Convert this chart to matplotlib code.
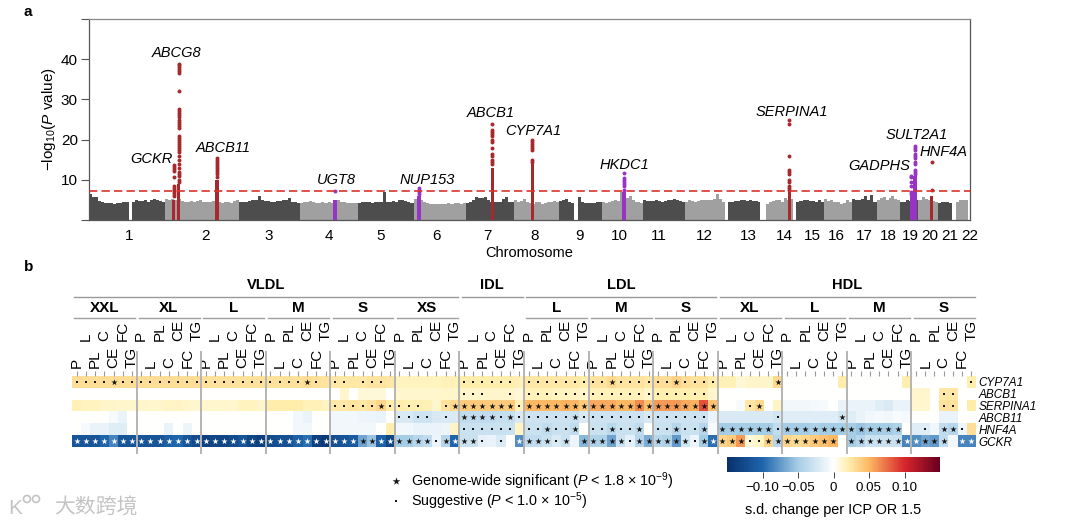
import numpy as np
import matplotlib
matplotlib.use("agg")
import matplotlib.pyplot as plt
from matplotlib.colors import LinearSegmentedColormap, Normalize
from matplotlib.cm import ScalarMappable
from matplotlib.patches import Circle

plt.rcParams["font.family"] = ["Liberation Sans", "DejaVu Sans"]
plt.rcParams["mathtext.fontset"] = "custom"
plt.rcParams["mathtext.rm"] = "Liberation Sans"
plt.rcParams["mathtext.it"] = "Liberation Sans:italic"
plt.rcParams["mathtext.bf"] = "Liberation Sans:bold"

W, H = 1069, 527

# ---- panel a data (Mb, -log10 P)
chrom_len = [249, 243, 198, 191, 181, 171, 159, 146, 141, 135, 135, 133,
             115, 107, 102, 90, 81, 78, 59, 63, 48, 51]
chrom_ticks = [131, 380, 589, 786, 953, 1136, 1303, 1457, 1604, 1735, 1866,
               2013, 2157, 2275, 2367, 2445, 2537, 2615, 2687, 2750, 2815, 2881]
skyline = [
    [6.4, 5.8, 5.6, 4.8, 4.5, 4.3, 4.2, 4.2, 4.1, 4.2, 4.3, 4.4, 4.6, 0, 4.4, 5.0, 4.7, 4.8, 5.0, 4.6, 4.9, 5.2, 5.0, 4.8, 4.6],
    [5.2, 5.0, 5.1, 5.0, 5.2, 4.8, 4.6, 4.6, 4.7, 4.5, 4.7, 4.9, 4.6, 4.4, 4.5, 4.7, 4.6, 4.4, 4.3, 4.5, 4.4, 4.3, 4.7, 5.0],
    [4.5, 4.6, 4.5, 4.8, 4.9, 5.0, 6.0, 5.0, 4.8, 4.7, 4.6, 4.5, 4.8, 4.7, 4.9, 5.0, 5.4, 4.6, 4.5, 4.3],
    [4.2, 4.4, 4.6, 4.8, 4.5, 4.3, 4.2, 4.4, 4.3, 4.5, 4.2, 4.4, 5.0, 4.6, 4.5, 4.3, 4.2, 4.3, 4.2],
    [4.3, 4.4, 4.6, 4.4, 4.3, 4.5, 4.4, 4.5, 7.0, 4.6, 4.5, 4.7, 4.5, 5.0, 5.0, 4.7, 4.5, 4.3],
    [5.2, 4.8, 5.0, 4.6, 4.2, 4.0, 3.9, 4.0, 4.1, 4.0, 4.0, 4.2, 4.1, 4.3, 4.2, 4.0, 4.3],
    [4.3, 4.5, 5.0, 5.6, 5.5, 5.5, 5.6, 5.0, 4.6, 4.4, 4.6, 4.4, 5.2, 5.8, 4.6, 4.4],
    [5.0, 4.6, 4.8, 5.2, 4.6, 4.2, 4.0, 4.5, 4.6, 4.0, 4.2, 4.4, 4.6, 4.8, 4.5],
    [4.8, 5.0, 5.2, 4.6, 4.2, 0, 5.8, 4.4, 4.2, 4.3, 4.3, 4.2, 4.4, 4.6],
    [4.6, 4.2, 4.4, 4.8, 5.0, 4.8, 7.0, 6.6, 5.4, 6.0, 5.0, 4.6, 4.5, 4.3],
    [5.0, 4.8, 4.7, 4.8, 4.9, 4.8, 4.6, 4.8, 5.0, 4.9, 5.2, 5.0, 4.8, 4.6],
    [4.5, 5.0, 4.8, 4.6, 4.8, 5.0, 5.0, 4.9, 5.0, 5.2, 6.4, 5.2, 4.6],
    [0, 4.4, 4.6, 4.8, 4.7, 4.9, 5.0, 4.8, 4.9, 4.7, 4.8, 4.5],
    [0, 0, 4.0, 4.6, 4.8, 5.0, 4.9, 4.5, 5.4, 5.0, 5.2],
    [0, 4.6, 4.8, 5.0, 4.9, 4.8, 4.7, 4.5, 5.0, 4.6],
    [5.2, 4.8, 5.0, 4.6, 4.4, 4.0, 4.2, 4.9, 4.4],
    [5.2, 4.9, 5.0, 5.3, 6.0, 5.0, 6.2, 4.6],
    [5.0, 5.4, 5.8, 5.0, 5.4, 6.0, 5.2, 5.0],
    [4.6, 4.4, 5.0, 4.8, 5.6, 5.0],
    [5.0, 5.6, 5.2, 5.0, 4.8, 4.4],
    [4.2, 4.5, 4.6, 4.5, 4.3],
    [0, 4.6, 5.0, 5.0, 5.0],
]
threshold = 7.3

gene_names = ["GCKR", "ABCG8", "ABCB11", "UGT8", "NUP153", "ABCB1", "CYP7A1",
              "HKDC1", "SERPINA1", "GADPHS", "SULT2A1", "HNF4A"]
gene_chrom = [2, 2, 2, 4, 6, 7, 8, 10, 14, 19, 19, 20]
gene_pos = [27.7, 44, 169, 115, 17.6, 87, 59, 71, 94.8, 36, 48, 43]
gene_kind = ["r", "r", "r", "p", "p", "r", "r", "p", "r", "p", "p", "r"]
gene_solid = [5, 9, 10, 5, 6, 13, 14, 7, 7, 6, 11, 6]
gene_dots = [
    [13.8, 13.3, 12.8, 12.3, 10.7, 8.5, 8, 7.5, 7, 6.5, 6],
    [38.9, 38.5, 38, 37.5, 37, 36.5, 32, 27.5, 27, 26.5, 26, 25.5, 25, 24.5, 24, 23.5, 23,
     21, 20.5, 20, 19.5, 19, 18.5, 18, 17.5, 17, 16, 15, 14, 13, 12, 11.5, 11, 10, 9.5],
    [15.5, 15, 14.5, 14, 13.5, 13, 12.5, 12, 11.5, 10.8],
    [7.3],
    [8, 7.5, 7, 6.5],
    [24, 22.5, 22, 21.5, 21, 20, 19.5, 18, 16.5, 16, 15, 14.5, 14],
    [20, 19.5, 19, 18.5, 18, 17.5, 15, 14.5],
    [11.7, 10.5, 10, 9.5, 9, 8.5, 7.5],
    [25, 24, 16, 12.5, 12, 11.5, 10, 9.5, 8.5, 8, 7.5],
    [11, 10.8, 9.5, 8.5, 7, 6.5],
    [18.5, 18, 17.5, 16.5, 16, 15.5, 14.5, 14, 12.5, 12, 11.5],
    [14.5, 7.5],
]
label_x = [206, 288, 439, 808, 1106, 1316, 1453, 1751, 2301, 2586, 2707, 2795]
label_y = [15.2, 41.5, 17.8, 9.9, 9.9, 26.5, 22.2, 13.7, 26.8, 13.5, 21.2, 16.9]

# ---- panel b data (s.d. change per ICP OR 1.5)
measures = ["P", "L", "PL", "C", "CE", "FC", "TG"]
lipo_groups = ["XXL", "XL", "L", "M", "S", "XS", "", "L", "M", "S", "XL", "L", "M", "S"]
lipo_classes = ["VLDL", "IDL", "LDL", "HDL"]
class_sizes = [6, 1, 3, 4]
row_genes = ["CYP7A1", "ABCB1", "SERPINA1", "ABCB11", "HNF4A", "GCKR"]

cyp7a1 = [.030, .030, .030, .030, .030, .030, .030,
          .030, .030, .030, .030, .030, .030, .030,
          .028, .028, .028, .028, .028, .028, .028,
          .028, .028, .028, .028, .030, .028, .026,
          .024, .024, .024, .024, .026, .026, .024,
          .016, .016, .016, .016, .016, .018, .018,
          .022, .022, .022, .022, .022, .022, .018,
          .024, .024, .024, .024, .024, .024, .022,
          .026, .026, .032, .026, .026, .026, .024,
          .030, .030, .036, .030, .028, .028, .022,
          .018, .018, .010, .014, .014, .014, .032,
          0, 0, 0, 0, 0, 0, .022,
          0, 0, 0, 0, 0, 0, .020,
          0, 0, 0, 0, 0, 0, .020]
abcb1 = [0, 0, 0, 0, 0, 0, 0,
         0, 0, 0, 0, 0, 0, 0,
         0, 0, 0, 0, 0, 0, 0,
         0, 0, 0, 0, 0, 0, 0,
         0, .012, 0, .010, .010, .010, 0,
         .012, .012, .012, .012, .012, .014, .014,
         .014, .014, .014, .014, .014, .014, .010,
         .018, .018, .018, .016, .016, .016, .014,
         .018, .018, .018, .018, .018, .018, .014,
         .020, .020, .020, .020, .020, .020, .012,
         0, 0, 0, 0, 0, 0, 0,
         0, 0, 0, 0, 0, 0, 0,
         0, 0, 0, 0, 0, 0, 0,
         .012, .012, 0, .024, .024, 0, 0]
serpina1 = [.018, .016, .016, .014, .014, .012, .012,
            .014, .012, .012, .015, .015, .012, .012,
            .012, .012, .012, .012, .016, .016, .013,
            .022, .022, .022, .022, .018, .018, .016,
            .024, .024, .026, .024, .028, .033, .022,
            .022, .020, .020, .018, .012, .028, .032,
            .040, .040, .040, .040, .040, .040, .018,
            .050, .050, .050, .050, .052, .050, .040,
            .055, .055, .055, .050, .050, .065, .045,
            .060, .060, .060, .055, .052, .085, .045,
            0, 0, -.004, .025, .032, 0, .015,
            -.008, -.008, -.008, -.007, -.005, 0, -.012,
            -.012, -.012, -.012, -.018, -.020, -.012, -.012,
            .012, .012, 0, .028, .028, 0, .022]
abcb11 = [0, 0, 0, 0, -.005, -.012, 0,
          0, 0, 0, 0, 0, 0, 0,
          0, 0, 0, 0, 0, 0, 0,
          0, 0, 0, -.008, -.012, 0, 0,
          -.008, -.008, -.008, -.010, -.010, -.012, 0,
          -.022, -.022, -.028, -.028, -.022, -.020, -.020,
          -.035, -.035, -.035, -.035, -.032, -.032, -.022,
          -.028, -.028, -.028, -.028, -.028, -.030, -.022,
          -.028, -.028, -.028, -.028, -.028, -.028, -.022,
          -.028, -.028, -.028, -.028, -.028, -.028, -.012,
          -.020, -.020, -.020, -.020, -.020, -.020, -.025,
          -.018, -.018, -.018, -.018, -.018, -.018, -.025,
          -.018, -.012, -.008, -.006, -.008, -.004, -.006,
          0, 0, 0, -.012, -.012, 0, 0]
hnf4a = [0, -.005, -.012, -.012, -.018, -.018, 0,
         0, 0, 0, -.012, 0, -.010, 0,
         0, 0, 0, 0, 0, 0, 0,
         0, 0, 0, -.008, -.008, 0, 0,
         -.008, -.008, -.008, -.008, -.008, 0, .020,
         -.008, -.008, -.012, -.012, -.012, -.010, .015,
         -.030, -.030, -.030, -.030, -.030, -.030, .015,
         -.030, -.030, -.035, -.030, -.030, -.035, 0,
         -.030, -.030, -.038, -.030, -.030, -.036, 0,
         -.030, -.030, -.040, -.030, -.030, -.040, -.005,
         -.050, -.050, -.050, -.050, -.050, -.050, -.035,
         -.050, -.050, -.050, -.045, -.050, -.050, -.050,
         -.050, -.055, -.050, -.050, -.050, -.045, 0,
         -.018, -.018, -.008, -.035, -.040, -.010, .030]
gckr = [-.115, -.115, -.115, -.100, -.085, -.115, -.115,
        -.115, -.115, -.115, -.105, -.100, -.115, -.125,
        -.135, -.130, -.130, -.125, -.115, -.130, -.135,
        -.125, -.120, -.120, -.105, -.095, -.135, -.140,
        -.120, -.115, -.110, -.070, -.055, -.105, -.130,
        -.050, -.050, -.040, -.035, -.010, -.040, -.100,
        -.030, -.030, -.015, -.012, -.020, 0, -.080,
        -.035, -.035, -.030, -.020, -.030, -.010, -.060,
        -.045, -.045, -.070, -.030, -.015, -.040, -.065,
        -.040, -.045, -.075, -.025, -.010, -.050, -.095,
        .035, .040, .060, .010, .015, .035, -.040,
        .035, .030, .035, .040, .045, .050, 0,
        -.050, -.040, -.030, -.030, -.030, -.030, -.085,
        -.080, -.070, -.075, -.035, -.008, -.085, -.085]

# * = genome-wide significant, . = suggestive, one string per lipoprotein group
marks_cyp7a1 = ["....*..", ".......", ".......", "....*. ", ".. ... ", "       ", "...... ",
                ".......", "..*....", "..*....", "      *", "       ", "       ", "      ."]
marks_abcb1 = ["       ", "       ", "       ", "       ", "       ", "       ", "...  . ",
               ".......", ".......", "...... ", "       ", "       ", "       ", "   ..  "]
marks_serpina1 = ["       ", "       ", "       ", "       ", ".....*.", "...  .*", "******.",
                  "*******", "*******", "*******", "   .*  ", "       ", "       ", "   ..  "]
marks_abcb11 = ["       ", "       ", "       ", "       ", "       ", ".... . ", "****.*.",
                ".....*.", ".......", "...... ", "      .", "      *", "       ", "       "]
marks_hnf4a = ["       ", "       ", "       ", "       ", "       ", "       ", "...... ",
               "..*..* ", "..*..* ", "..*..* ", "******.", "*******", "****** ", " . **. "]
marks_gckr = ["*******", "*******", "*******", "*******", "*******", "****.**", "**. . *",
              "***.* *", "****.**", "****.**", "***..**", "****** ", "*******", "**** **"]

cbar_ticks = [-0.10, -0.05, 0, 0.05, 0.10]
cbar_labels = ["\u22120.10", "\u22120.05", "0", "0.05", "0.10"]
vlim = 0.15


def px_axes(fig, left, top, right, bottom):
    return fig.add_axes([left / W, 1 - bottom / H, (right - left) / W, (bottom - top) / H])


if __name__ == "__main__":
    fig = plt.figure(figsize=(W / 100, H / 100), dpi=100)

    # ---- Manhattan plot
    ax0 = px_axes(fig, 89, 19, 969.5, 220)
    offsets = np.concatenate([[0], np.cumsum(chrom_len)])
    for i, heights in enumerate(skyline):
        edges = np.linspace(offsets[i], offsets[i + 1], len(heights) + 1)
        ax0.stairs(heights, edges, fill=True, lw=0,
                   color="#4d4d4d" if i % 2 == 0 else "#a0a0a0")

    hit_colors = {"r": "#a8292d", "p": "#9933c4"}
    for name, ch, pos, kind, solid, dots, lx, ly in zip(gene_names, gene_chrom, gene_pos,
                                                        gene_kind, gene_solid, gene_dots,
                                                        label_x, label_y):
        x = offsets[ch - 1] + pos
        c = hit_colors[kind]
        ax0.bar(x, solid, width=12, color=c, lw=0, zorder=3)
        ax0.scatter([x] * len(dots), dots, s=8, color=c, lw=0, zorder=3)
        ax0.text(lx, ly, name, style="italic", fontsize=10.5, ha="center", va="center")

    ax0.axhline(threshold, color="#d9332b", lw=1.2, dashes=(5, 2.5), zorder=4)
    ax0.set_xlim(0, offsets[-1])
    ax0.set_ylim(0, 50)
    ax0.set_yticks([0, 10, 20, 30, 40, 50])
    ax0.set_yticklabels(["", "10", "20", "30", "40", ""], fontsize=11)
    ax0.set_xticks(chrom_ticks)
    ax0.set_xticklabels([str(i + 1) for i in range(22)], fontsize=11)
    ax0.tick_params(axis="x", length=0, pad=6.5)
    ax0.tick_params(axis="y", length=6, width=0.8, color="#555555", pad=2)
    ax0.set_xlabel("Chromosome", fontsize=10.5, labelpad=2)
    ax0.set_ylabel(r"$-$log$_{10}$($\mathit{P}$ value)", fontsize=11, labelpad=2)
    for side in ax0.spines:
        ax0.spines[side].set_color("#555555")
        ax0.spines[side].set_linewidth(0.9)
    ax0.spines["top"].set_color("#888888")

    # ---- heat map
    cmap = LinearSegmentedColormap.from_list("icp", [
        (0.0, "#08306b"), (1 / 6, "#1f66ad"), (1 / 3, "#a6cde6"), (0.5, "#ffffff"),
        (0.5 + 0.02 / 0.3, "#fff0b0"), (2 / 3, "#fdb863"), (5 / 6, "#d7262b"), (1.0, "#67001f")])
    norm = Normalize(-vlim, vlim)

    ax1 = px_axes(fig, 72, 376, 976, 447)
    values = np.array([cyp7a1, abcb1, serpina1, abcb11, hnf4a, gckr])
    ax1.pcolormesh(np.arange(99), np.arange(7), values, cmap=cmap, norm=norm,
                   linewidth=0, rasterized=True)
    ax1.set_xlim(0, 98)
    ax1.set_ylim(6, 0)

    all_marks = [marks_cyp7a1, marks_abcb1, marks_serpina1, marks_abcb11, marks_hnf4a, marks_gckr]
    for r, row in enumerate(all_marks):
        flat = "".join(row)
        for c, m in enumerate(flat):
            if m == " ":
                continue
            col = "white" if values[r, c] < -0.078 else "#151515"
            if m == "*":
                ax1.scatter(c + 0.5, r + 0.5, marker="*", s=22, color=col, lw=0)
            else:
                ax1.scatter(c + 0.5, r + 0.5, marker="s", s=3, color=col, lw=0)

    ax1.set_yticks(np.arange(6) + 0.5)
    ax1.set_yticklabels(row_genes, style="italic", fontsize=8.5)
    ax1.yaxis.tick_right()
    ax1.tick_params(axis="y", length=0, pad=2)

    ax1.xaxis.tick_top()
    ax1.set_xticks(np.arange(98) + 0.5)
    ax1.set_xticklabels(measures * 14, rotation=90, fontsize=11, ha="center", va="bottom")
    for i, tick in enumerate(ax1.xaxis.get_major_ticks()):
        upper = i % 2 == 1
        tick.tick2line.set_markersize(22.5 if upper else 4.5)
        tick.tick2line.set_markeredgewidth(0.6)
        tick.tick2line.set_markeredgecolor("#999999")
        tick.set_pad(21.7 if upper else 2.5)
    for side in ax1.spines:
        ax1.spines[side].set_visible(False)

    # group lines above the heat map, y given as axes fraction from pixels
    def yf(py):
        return (447 - py) / 71.0

    trans = ax1.get_xaxis_transform()
    for g in range(1, 14):
        ax1.plot([g * 7, g * 7], [yf(352), yf(453)], transform=trans, clip_on=False,
                 color="#b4b4b4", lw=1.4, zorder=5)
    for g, name in enumerate(lipo_groups):
        if name:
            ax1.plot([g * 7 + 0.25, g * 7 + 6.85], [yf(318.3)] * 2, transform=trans,
                     clip_on=False, color="#a0a0a0", lw=1)
            ax1.text(g * 7 + 3.5, yf(308), name, transform=trans, fontsize=11, weight="bold",
                     ha="center", va="center")
    start = 0
    for name, n in zip(lipo_classes, class_sizes):
        a, b = start * 7, (start + n) * 7
        ax1.plot([a + 0.25, b - 0.15], [yf(296.7)] * 2, transform=trans, clip_on=False,
                 color="#999999", lw=1)
        ax1.text((a + b) / 2, yf(285), name, transform=trans, fontsize=10.5, weight="bold",
                 ha="center", va="center")
        start += n

    # ---- colour bar
    cax = px_axes(fig, 727, 457, 940, 472)
    cb = fig.colorbar(ScalarMappable(norm=norm, cmap=cmap), cax=cax, orientation="horizontal")
    cb.set_ticks(cbar_ticks)
    cb.set_ticklabels(cbar_labels)
    cb.ax.tick_params(length=4, width=0.7, labelsize=9.6, pad=3, color="#444444")
    cb.outline.set_visible(False)
    cb.set_label("s.d. change per ICP OR 1.5", fontsize=10.4, labelpad=7)

    # ---- legend, panel letters and watermark on a pixel overlay
    over = fig.add_axes([0, 0, 1, 1], facecolor="none")
    over.set_xlim(0, W)
    over.set_ylim(H, 0)
    over.axis("off")
    over.scatter(396, 481, marker="*", s=34, color="#151515", lw=0)
    over.scatter(396, 501, marker="s", s=4, color="#151515", lw=0)
    over.text(411, 481, r"Genome-wide significant ($\mathit{P}$ < 1.8 × 10$^{-9}$)",
              fontsize=10.4, va="center")
    over.text(411, 501, r"Suggestive ($\mathit{P}$ < 1.0 × 10$^{-5}$)", fontsize=10.4, va="center")
    over.text(24, 12, "a", fontsize=11, weight="bold", va="center")
    over.text(24, 267, "b", fontsize=11, weight="bold", va="center")

    wm = "#c4c4c4"
    over.text(8, 509, "K", fontsize=15, color=wm, va="center")
    over.add_patch(Circle((27, 499), 3.5, fill=False, ec=wm, lw=1.2))
    over.add_patch(Circle((36, 499), 3.5, fill=False, ec=wm, lw=1.2))
    over.text(54, 508, "大数跨境", fontsize=15, color=wm, va="center",
              family=["Noto Sans CJK SC", "DejaVu Sans"])

    plt.savefig("out.png", dpi=100)
